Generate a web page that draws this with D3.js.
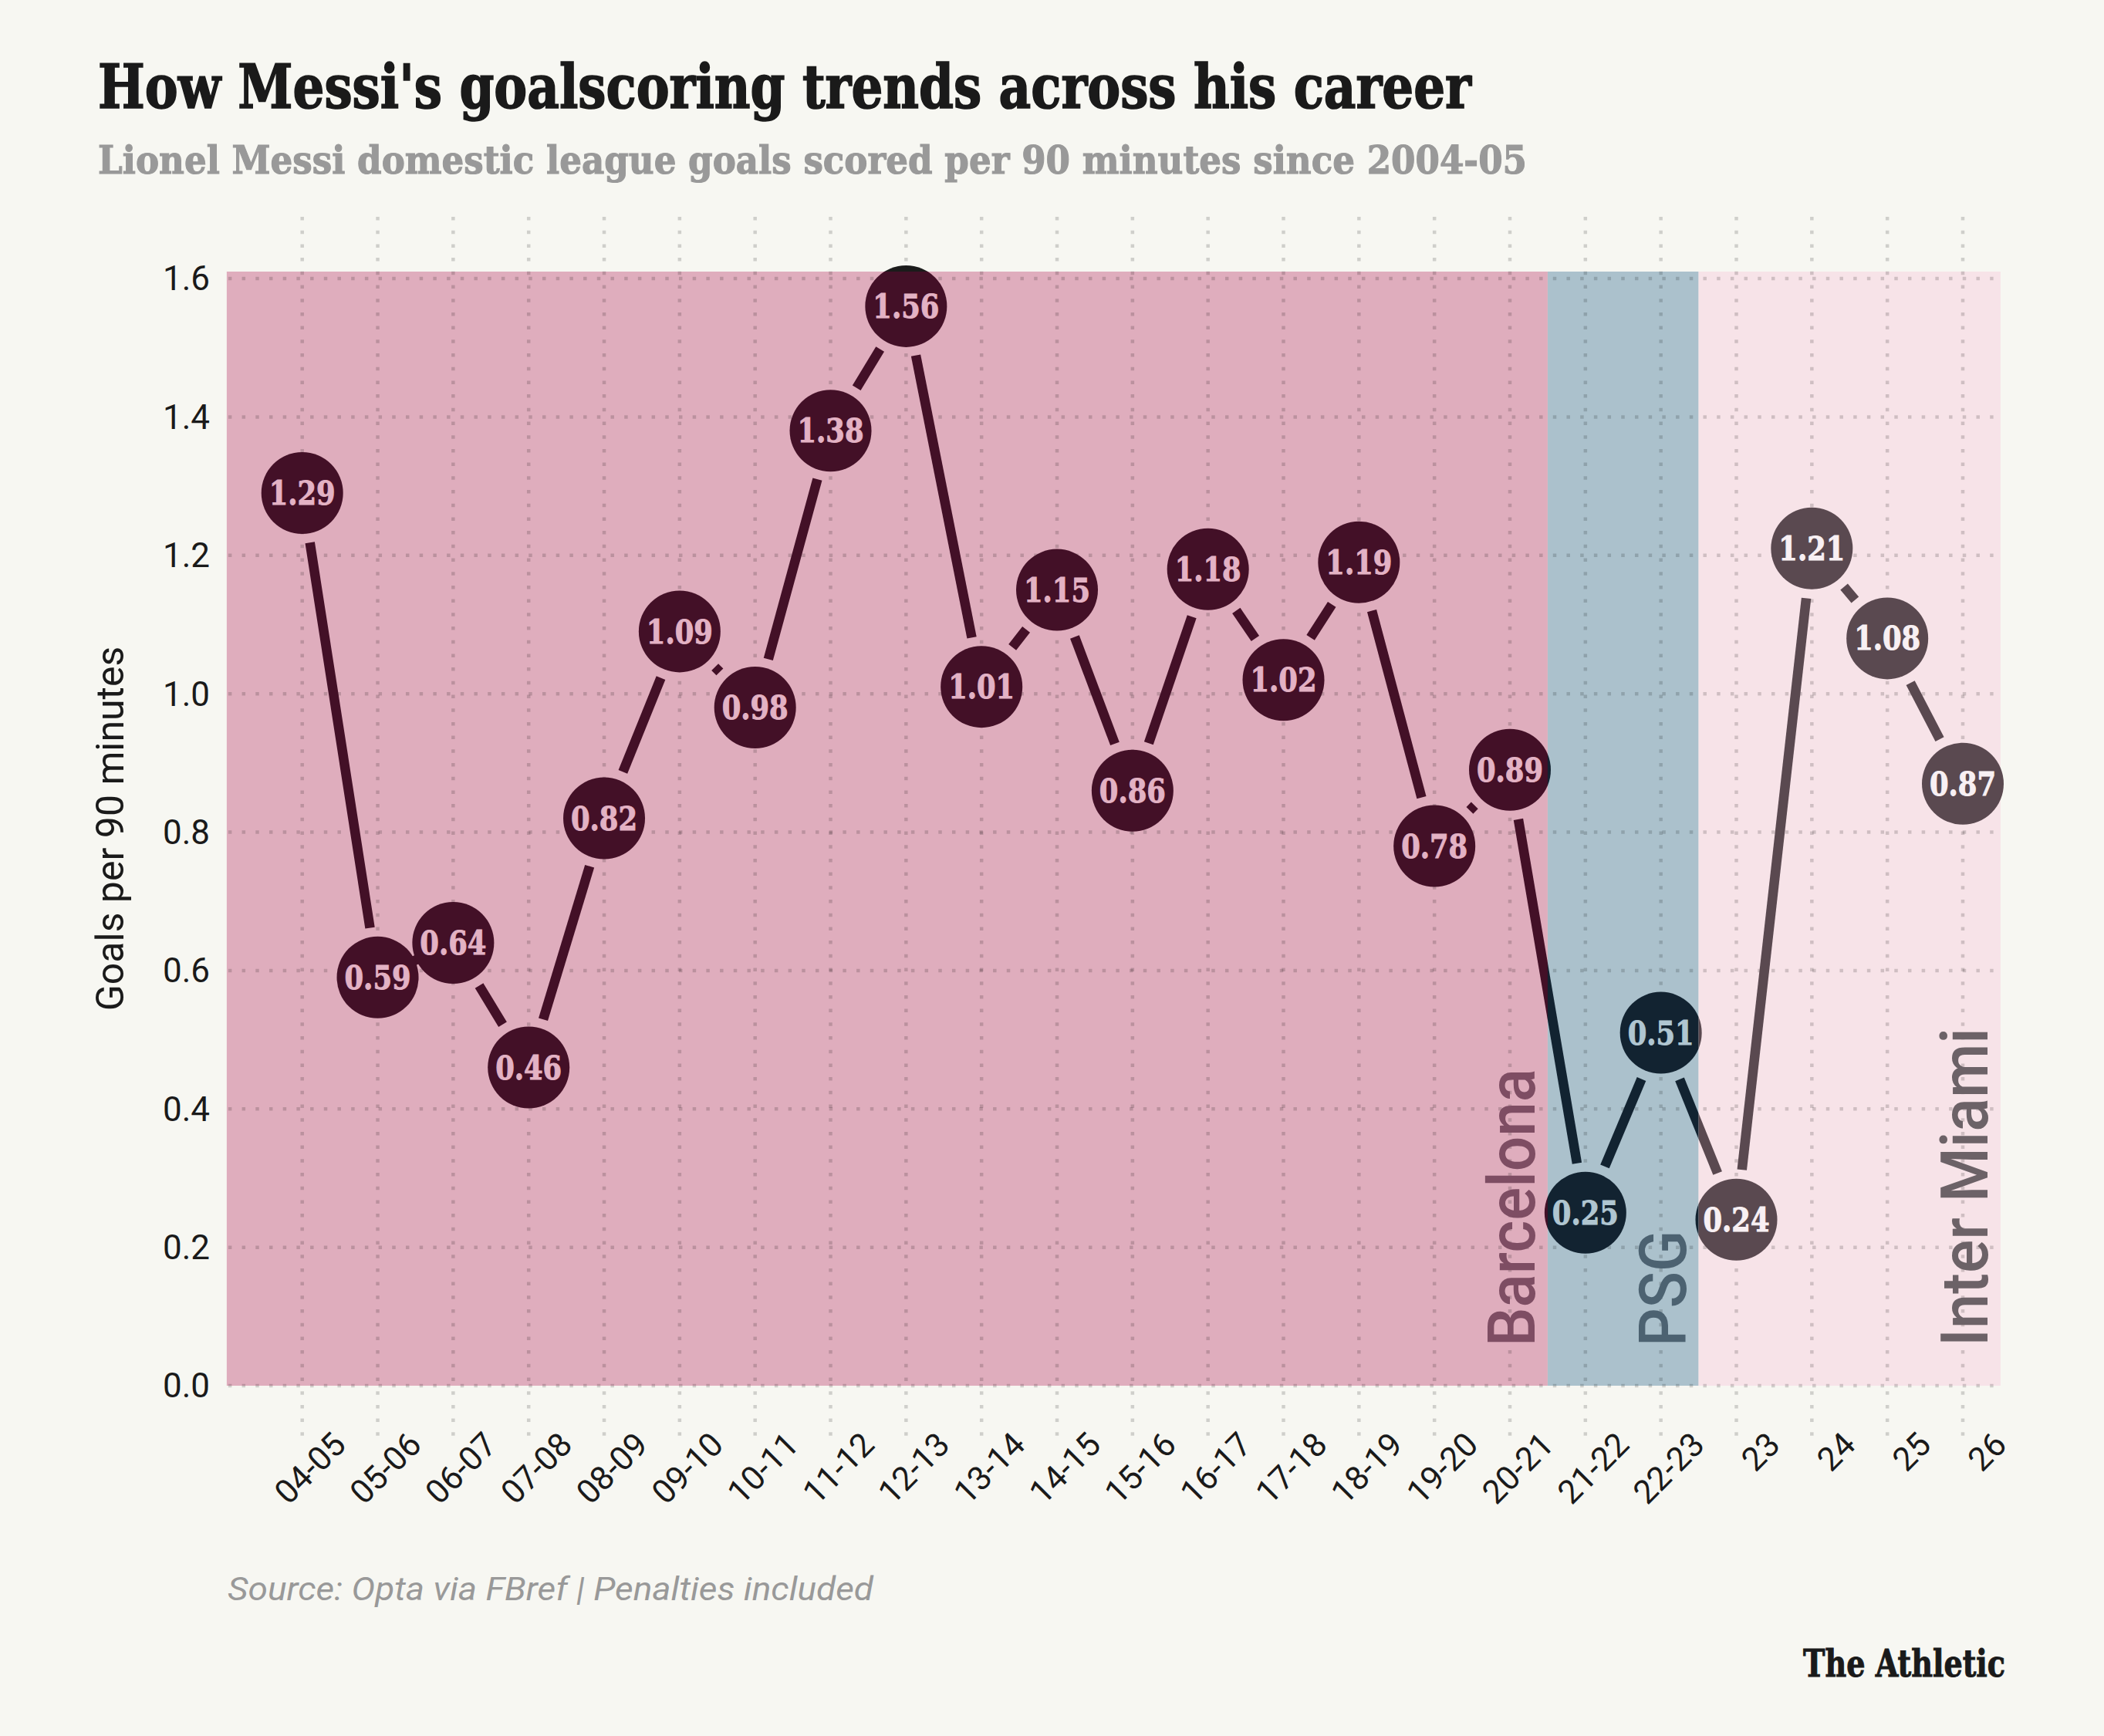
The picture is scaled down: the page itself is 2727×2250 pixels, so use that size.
<!DOCTYPE html>
<html>
<head>
<meta charset="utf-8">
<script src="https://cdn.jsdelivr.net/npm/d3@7"></script>
<style>
  html, body { margin: 0; padding: 0; background: #f7f7f2; }
  svg { display: block; }
</style>
</head>
<body>
<svg id="chart" width="2727" height="2250"></svg>
<script>
// ---------- DATA ----------
const seasons = ["04-05","05-06","06-07","07-08","08-09","09-10","10-11","11-12","12-13","13-14","14-15","15-16","16-17","17-18","18-19","19-20","20-21","21-22","22-23","23","24","25","26"];
const goalsPer90 = [1.29,0.59,0.64,0.46,0.82,1.09,0.98,1.38,1.56,1.01,1.15,0.86,1.18,1.02,1.19,0.78,0.89,0.25,0.51,0.24,1.21,1.08,0.87];
const yTicks = [0.0,0.2,0.4,0.6,0.8,1.0,1.2,1.4,1.6];
const clubs = ["Barcelona","PSG","Inter Miami"];
const clubFirstSeason = ["04-05","21-22","23"];
const clubLastSeason = ["20-21","22-23","26"];

// ---------- STYLE ----------
const clubFill = ["#dfadbd","#abc1cc","#f7e3e8"];
const clubText = ["#7e4d63","#4c6271","#6c6267"];
const clubMark = ["#431027","#122331","#5a4950"];
const clubLabel = ["#e3b2c4","#b0c6d1","#f8f0f3"];
const clubLabelLen = [360, 150, 413];

const W = 2727, H = 2250;
const svg = d3.select("#chart");
svg.append("rect").attr("width", W).attr("height", H).attr("fill", "#f7f7f2");

const x = d3.scalePoint().domain(seasons).range([391.7, 2544]);
const step = x.step();
const y = d3.scaleLinear().domain([0, 1.6]).range([1796, 361]);
const plotTop = y(1.6) - 9;
const plotBottom = y(0);

const regions = clubs.map((c, i) => {
  const left = i === 0 ? x(clubFirstSeason[i]) - step : x(clubFirstSeason[i]) - step / 2;
  const right = x(clubLastSeason[i]) + step / 2;
  return {club: c, i, left, right};
});
const plotLeft = regions[0].left, plotRight = regions[2].right;

svg.append("g").selectAll("rect").data(regions).join("rect")
  .attr("x", d => d.left).attr("y", plotTop)
  .attr("width", d => d.right - d.left).attr("height", plotBottom - plotTop)
  .attr("fill", d => clubFill[d.i]);

const grid = svg.append("g").attr("stroke", "#000").attr("stroke-opacity", 0.16)
  .attr("stroke-width", 4.5).attr("stroke-dasharray", "4.5 13.2");
grid.selectAll("line.h").data(yTicks).join("line").attr("class", "h")
  .attr("x1", plotLeft + 2).attr("x2", plotRight)
  .attr("y1", d => y(d)).attr("y2", d => y(d));
grid.selectAll("line.v").data(seasons).join("line").attr("class", "v")
  .attr("x1", d => x(d)).attr("x2", d => x(d))
  .attr("y1", 281).attr("y2", 1870);

svg.append("g").selectAll("text").data(regions).join("text")
  .attr("transform", d => `translate(${d.right - 17},${plotBottom - 51}) rotate(-90)`)
  .attr("font-family", "Roboto, sans-serif").attr("font-weight", 500)
  .attr("font-size", 85)
  .attr("fill", d => clubText[d.i])
  .attr("textLength", d => clubLabelLen[d.i])
  .attr("lengthAdjust", "spacingAndGlyphs")
  .text(d => d.club);

svg.append("g").selectAll("text").data(yTicks).join("text")
  .attr("x", 272).attr("y", d => y(d)).attr("dy", "0.35em")
  .attr("text-anchor", "end")
  .attr("font-family", "Roboto, sans-serif").attr("font-size", 44)
  .attr("fill", "#1a1a1a")
  .text(d => d3.format(".1f")(d));

svg.append("text")
  .attr("transform", `translate(160,${(plotTop + plotBottom) / 2}) rotate(-90)`)
  .attr("text-anchor", "middle")
  .attr("font-family", "Roboto, sans-serif").attr("font-size", 50)
  .attr("fill", "#1a1a1a")
  .text("Goals per 90 minutes");

svg.append("g").selectAll("text").data(seasons).join("text")
  .attr("transform", d => `translate(${x(d) + 59},1875) rotate(-45)`)
  .attr("text-anchor", "end")
  .attr("font-family", "Roboto, sans-serif").attr("font-size", 43)
  .attr("fill", "#1a1a1a")
  .text(d => d);

const pts = seasons.map((s, i) => ({s, v: goalsPer90[i], cx: x(s), cy: y(goalsPer90[i])}));
const R = 53, GAP = 65;
const segs = d3.pairs(pts).map(([a, b]) => {
  const dx = b.cx - a.cx, dy = b.cy - a.cy, L = Math.hypot(dx, dy);
  const ux = dx / L, uy = dy / L;
  return {x1: a.cx + ux * GAP, y1: a.cy + uy * GAP, x2: b.cx - ux * GAP, y2: b.cy - uy * GAP};
});

const SLAB = "'DejaVu Serif Condensed', 'DejaVu Serif', serif";
const defs = svg.append("defs");
const clipSpecs = regions.map(r => ({
  id: "clip" + r.i,
  x: r.i === 0 ? 0 : r.left, y: plotTop,
  w: r.i === 2 ? W - r.left : (r.i === 0 ? r.right : r.right - r.left), h: H - plotTop,
  mark: clubMark[r.i], label: clubLabel[r.i]
}));
clipSpecs.push({id: "clipTop", x: 0, y: 0, w: W, h: plotTop, mark: "#1b1b1b", label: "#e3b2c4"});

clipSpecs.forEach(c => {
  defs.append("clipPath").attr("id", c.id).append("rect")
    .attr("x", c.x).attr("y", c.y).attr("width", c.w).attr("height", c.h);
  const g = svg.append("g").attr("clip-path", `url(#${c.id})`);
  g.selectAll("line").data(segs).join("line")
    .attr("x1", d => d.x1).attr("y1", d => d.y1)
    .attr("x2", d => d.x2).attr("y2", d => d.y2)
    .attr("stroke", c.mark).attr("stroke-width", 12.5).attr("stroke-linecap", "butt");
  g.selectAll("circle").data(pts).join("circle")
    .attr("cx", d => d.cx).attr("cy", d => d.cy).attr("r", R)
    .attr("fill", c.mark);
  g.selectAll("text").data(pts).join("text")
    .attr("x", d => d.cx).attr("y", d => d.cy).attr("dy", "0.36em")
    .attr("text-anchor", "middle")
    .attr("font-family", SLAB).attr("font-weight", "bold")
    .attr("font-size", 42)
    .attr("fill", c.label).attr("stroke", c.label).attr("stroke-width", 0.9)
    .text(d => d3.format(".2f")(d.v))
    .each(function() {
      const w = this.getComputedTextLength();
      d3.select(this).attr("textLength", Math.min(w, 86 * w / 92)).attr("lengthAdjust", "spacingAndGlyphs");
    });
});

svg.append("text")
  .attr("x", 127).attr("y", 140)
  .attr("font-family", SLAB).attr("font-weight", "bold")
  .attr("font-size", 78).attr("fill", "#1a1a1a")
  .attr("stroke", "#1a1a1a").attr("stroke-width", 1.6)
  .attr("textLength", 1780).attr("lengthAdjust", "spacingAndGlyphs")
  .text("How Messi's goalscoring trends across his career");

svg.append("text")
  .attr("x", 127).attr("y", 225)
  .attr("font-family", SLAB).attr("font-weight", "bold")
  .attr("font-size", 51).attr("fill", "#999999")
  .attr("stroke", "#999999").attr("stroke-width", 1.1)
  .attr("textLength", 1852).attr("lengthAdjust", "spacingAndGlyphs")
  .text("Lionel Messi domestic league goals scored per 90 minutes since 2004-05");

svg.append("text")
  .attr("x", 295).attr("y", 2074)
  .attr("font-family", "Roboto, sans-serif").attr("font-style", "italic")
  .attr("font-size", 43).attr("fill", "#999999")
  .attr("textLength", 837).attr("lengthAdjust", "spacingAndGlyphs")
  .text("Source: Opta via FBref | Penalties included");

svg.append("text")
  .attr("x", 2337).attr("y", 2173)
  .attr("font-family", SLAB).attr("font-weight", "bold")
  .attr("font-size", 49).attr("fill", "#1a1a1a")
  .attr("stroke", "#1a1a1a").attr("stroke-width", 1)
  .attr("textLength", 262).attr("lengthAdjust", "spacingAndGlyphs")
  .text("The Athletic");
</script>
</body>
</html>
